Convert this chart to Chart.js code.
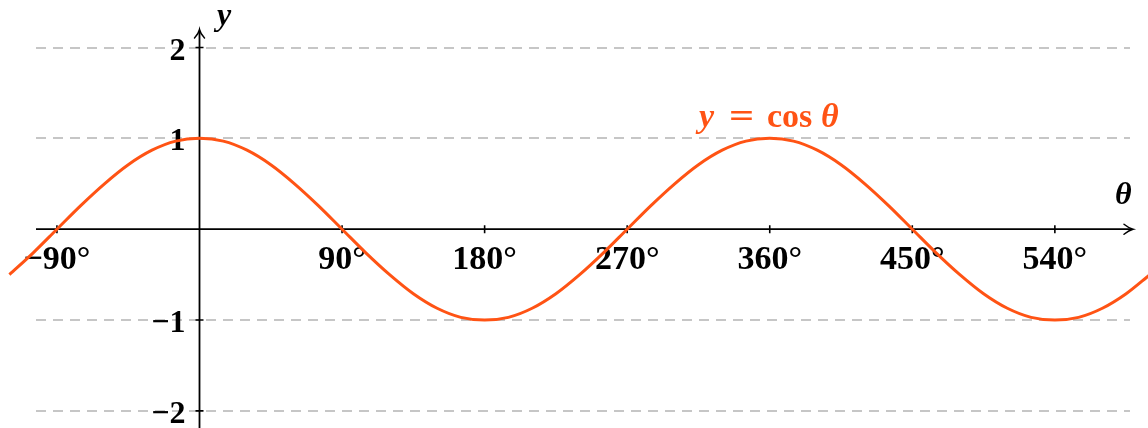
<!DOCTYPE html>
<html>
<head>
<meta charset="utf-8">
<script src="https://cdn.jsdelivr.net/npm/chart.js@4.4.1/dist/chart.umd.min.js"></script>
<style>
  html, body { margin: 0; padding: 0; background: #ffffff; }
  #wrap { width: 1148px; height: 428px; }
</style>
</head>
<body>
<div id="wrap"><canvas id="c" width="1148" height="428"></canvas></div>
<script>
// ---- data ----
const angles = [-120,-105,-90,-75,-60,-45,-30,-15,0,15,30,45,60,75,90,105,120,135,150,165,180,195,210,225,240,255,270,285,300,315,330,345,360,375,390,405,420,435,450,465,480,495,510,525,540,555,570,585,600];
const cosValues = [-0.5,-0.26,0,0.26,0.5,0.71,0.87,0.97,1,0.97,0.87,0.71,0.5,0.26,0,-0.26,-0.5,-0.71,-0.87,-0.97,-1,-0.97,-0.87,-0.71,-0.5,-0.26,0,0.26,0.5,0.71,0.87,0.97,1,0.97,0.87,0.71,0.5,0.26,0,-0.26,-0.5,-0.71,-0.87,-0.97,-1,-0.97,-0.87,-0.71,-0.5];
const xTickValues = [-90, 90, 180, 270, 360, 450, 540];
const xTickLabels = ['\u221290\u00b0', '90\u00b0', '180\u00b0', '270\u00b0', '360\u00b0', '450\u00b0', '540\u00b0'];
const yTickValues = [2, 1, -1, -2];
const yTickLabels = ['2', '1', '\u22121', '\u22122'];
const gridValues = [2, 1, -1, -2];
const curveLabel = ['y', '=', 'cos', '\u03b8'];

const ORANGE = '#ff5314';
const GRID = '#c6c6c6';
const FONT = "'Liberation Serif'";

const points = angles.map((a, i) => ({ x: a, y: cosValues[i] }));

const axesPlugin = {
  id: 'axesPlugin',
  beforeDatasetsDraw(chart) {
    const ctx = chart.ctx;
    const xs = chart.scales.x, ys = chart.scales.y;
    const x0 = xs.getPixelForValue(0);
    const y0 = ys.getPixelForValue(0);
    const left = 36, right = 1130;
    ctx.save();
    // dashed grid
    ctx.strokeStyle = GRID;
    ctx.lineWidth = 2;
    ctx.setLineDash([10, 7]);
    gridValues.forEach(v => {
      const py = Math.round(ys.getPixelForValue(v));
      ctx.beginPath();
      ctx.moveTo(left, py);
      ctx.lineTo(right, py);
      ctx.stroke();
    });
    ctx.setLineDash([]);
    // axes
    ctx.strokeStyle = '#000';
    ctx.lineWidth = 1.8;
    ctx.beginPath();
    ctx.moveTo(left, y0);
    ctx.lineTo(1132, y0);
    ctx.moveTo(x0, 428);
    ctx.lineTo(x0, 31);
    ctx.stroke();
    // arrowheads
    ctx.lineWidth = 1.5;
    ctx.lineCap = 'round';
    ctx.beginPath();
    ctx.moveTo(1124, y0 - 5);
    ctx.quadraticCurveTo(1129, y0 - 1, 1133, y0);
    ctx.quadraticCurveTo(1129, y0 + 1, 1124, y0 + 5);
    ctx.moveTo(x0 - 5, 38);
    ctx.quadraticCurveTo(x0 - 1, 34, x0, 29.5);
    ctx.quadraticCurveTo(x0 + 1, 34, x0 + 5, 38);
    ctx.stroke();
    ctx.lineCap = 'butt';
    // ticks
    ctx.lineWidth = 1.6;
    ctx.beginPath();
    xTickValues.forEach(v => {
      const px = xs.getPixelForValue(v);
      ctx.moveTo(px, y0 - 4);
      ctx.lineTo(px, y0 + 4);
    });
    yTickValues.forEach(v => {
      const py = ys.getPixelForValue(v);
      ctx.moveTo(x0 - 4, py);
      ctx.lineTo(x0 + 4, py);
    });
    ctx.stroke();
    // tick labels
    ctx.fillStyle = '#000';
    ctx.font = 'bold 34px ' + FONT;
    ctx.textAlign = 'center';
    ctx.textBaseline = 'alphabetic';
    xTickValues.forEach((v, i) => {
      ctx.fillText(xTickLabels[i], xs.getPixelForValue(v), y0 + 40);
    });
    ctx.textAlign = 'right';
    ctx.font = 'bold 32px ' + FONT;
    yTickValues.forEach((v, i) => {
      ctx.fillText(yTickLabels[i], x0 - 14, ys.getPixelForValue(v) + 12);
    });
    // axis titles
    ctx.textAlign = 'left';
    ctx.font = 'bold italic 32px ' + FONT;
    ctx.fillText('y', 217, 25);
    ctx.fillText('\u03b8', 1115, 204);
    ctx.restore();
  },
  afterDatasetsDraw(chart) {
    const ctx = chart.ctx;
    ctx.save();
    ctx.fillStyle = ORANGE;
    ctx.textBaseline = 'alphabetic';
    ctx.textAlign = 'left';
    const fonts = ['bold italic 34px ' + FONT, 'bold 34px ' + FONT, 'bold 34px ' + FONT, 'bold italic 34px ' + FONT];
    const starts = [699, 729, 767, 821];
    curveLabel.forEach((t, i) => {
      ctx.font = fonts[i];
      if (t === '=') {
        ctx.save();
        ctx.translate(starts[i], 127);
        ctx.scale(1.3, 1);
        ctx.fillText(t, 0, 0);
        ctx.restore();
      } else {
        ctx.fillText(t, starts[i], 127);
      }
    });
    ctx.restore();
  }
};

new Chart(document.getElementById('c'), {
  type: 'line',
  data: {
    datasets: [{
      data: points,
      borderColor: ORANGE,
      borderWidth: 3,
      pointRadius: 0,
      fill: false,
      cubicInterpolationMode: 'monotone'
    }]
  },
  options: {
    responsive: false,
    animation: false,
    devicePixelRatio: 1,
    layout: { padding: 0 },
    plugins: { legend: { display: false }, tooltip: { enabled: false } },
    scales: {
      x: { type: 'linear', min: -125.95, max: 598.8, display: false },
      y: { type: 'linear', min: -2.188, max: 2.523, display: false }
    }
  },
  plugins: [axesPlugin]
});
</script>
</body>
</html>
